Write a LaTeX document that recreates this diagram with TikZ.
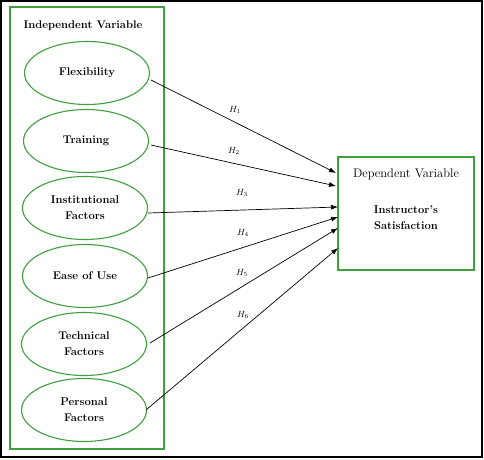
\documentclass[tikz,border=0pt]{standalone}
\usetikzlibrary{shapes.geometric,arrows.meta}
\definecolor{grn}{RGB}{64,160,64}
\begin{document}
\begin{tikzpicture}[x=1pt,y=-1pt,
  oval/.style={ellipse,draw=grn,line width=1.1pt,minimum width=125pt,minimum height=63pt,inner sep=0pt,align=center,font=\bfseries\fontsize{11.2}{16}\selectfont},
  arr/.style={-{Latex[length=7pt,width=5pt]},line width=0.7pt},
  hlab/.style={font=\fontsize{9}{10}\selectfont}]
\useasboundingbox (0,0) rectangle (484,459);
\draw[line width=1.3pt] (1,1) rectangle (482,457);
\node[draw=grn,line width=1.1pt,minimum width=154pt,minimum height=442pt,inner sep=0pt] (indep) at (87,228) {};
\node[font=\bfseries\fontsize{11.2}{13}\selectfont] (indt) at (83,26) {Independent Variable};
\node[oval] (flex) at (87,73) {Flexibility};
\node[oval] (train) at (86,141) {Training};
\node[oval] (inst) at (85,208) {Institutional\\Factors};
\node[oval] (ease) at (85,276) {Ease of Use};
\node[oval] (tech) at (84,344) {Technical\\Factors};
\node[oval] (pers) at (84,410) {Personal\\Factors};
\node[draw=grn,line width=1.1pt,minimum width=136pt,minimum height=113pt,inner sep=0pt] (dep) at (406,213.5) {};
\node[font=\fontsize{12.5}{14}\selectfont] (dept) at (406,174) {Dependent Variable};
\node[font=\bfseries\fontsize{11.2}{16}\selectfont,align=center] (sat) at (406,218) {Instructor's\\Satisfaction};
\coordinate (e1) at (336,173);
\coordinate (e2) at (336,186);
\coordinate (e3) at (338,207);
\coordinate (e4) at (338,217);
\coordinate (e5) at (338,228);
\coordinate (e6) at (338,248);
\coordinate (s1) at (151,80);
\coordinate (s2) at (151,145);
\coordinate (s3) at (148,213);
\coordinate (s4) at (148,278);
\coordinate (s5) at (150,343);
\coordinate (s6) at (146,410);
\draw[arr] (s1) -- (e1);
\draw[arr] (s2) -- (e2);
\draw[arr] (s3) -- (e3);
\draw[arr] (s4) -- (e4);
\draw[arr] (s5) -- (e5);
\draw[arr] (s6) -- (e6);
\node[hlab] (h1) at (235,110) {$H_1$};
\node[hlab] (h2) at (234,151) {$H_2$};
\node[hlab] (h3) at (242,193) {$H_3$};
\node[hlab] (h4) at (243,233) {$H_4$};
\node[hlab] (h5) at (242,273) {$H_5$};
\node[hlab] (h6) at (243,315) {$H_6$};
\end{tikzpicture}
\end{document}
